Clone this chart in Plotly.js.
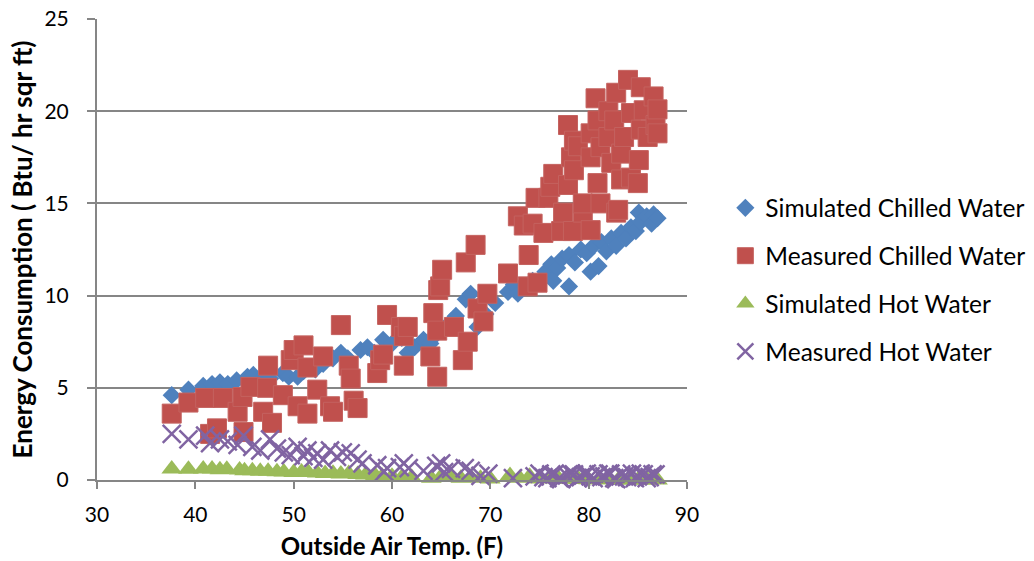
<!DOCTYPE html>
<html>
<head>
<meta charset="utf-8">
<script src="https://cdn.plot.ly/plotly-3.0.1.min.js"></script>
<style>html,body{margin:0;padding:0;background:#fff;}#chart{width:1034px;height:561px;}</style>
</head>
<body>
<div id="chart"></div>
<script>
// Simulated Chilled Water
const simCWx = [37.6,39.3,40.8,41.7,42.5,43.3,44.2,45.3,45.9,47.0,47.6,48.9,49.5,50.4,51.0,52.2,53.0,54.0,54.8,55.5,56.8,57.5,58.2,59.1,60.0,61.0,61.6,62.3,63.2,63.9,64.5,65.0,66.0,66.5,67.5,68.0,68.7,68.7,69.5,70.5,71.8,72.4,72.8,73.5,74.3,74.4,75.0,75.6,76.2,76.4,76.8,77.3,78.0,78.0,78.6,79.2,79.8,80.2,80.5,81.0,81.3,81.8,82.3,82.8,83.3,83.8,84.3,84.8,85.1,85.3,85.9,86.4,86.6,87.0];
const simCWy = [4.6,4.9,5.1,5.2,5.3,5.2,5.4,5.6,5.7,5.6,5.5,5.8,5.6,5.6,5.9,6.0,6.3,6.6,6.9,6.6,7.05,7.2,6.9,7.6,7.4,7.7,6.9,7.2,7.6,7.4,7.9,8.2,8.6,8.9,9.8,10.1,9.4,8.3,9.0,9.6,10.2,10.6,10.1,10.5,10.8,10.6,10.7,11.3,11.7,10.8,11.5,12.0,10.5,12.2,11.8,12.5,12.3,11.3,12.7,11.6,12.9,12.4,13.1,12.7,13.4,13.1,13.7,13.5,14.5,14.0,14.3,13.9,14.4,14.2];

// Measured Chilled Water
const meaCWx = [37.6,39.3,41.0,41.5,42.2,42.8,44.3,44.8,44.9,45.6,46.9,47.3,47.4,47.8,48.9,49.7,50.0,50.4,51.0,51.4,51.4,52.4,53.0,53.7,54.0,54.8,55.6,55.8,56.1,56.5,58.5,58.8,59.1,59.5,60.9,61.2,61.2,61.6,63.9,64.2,64.6,64.6,64.7,64.9,65.1,66.3,67.2,67.5,67.7,68.5,68.7,69.3,69.7,71.8,72.8,73.4,73.8,73.9,74.3,74.6,74.8,75.4,75.9,76.1,76.4,77.2,77.4,77.9,77.9,78.2,78.4,78.5,78.5,78.9,79.4,79.4,80.2,80.2,80.2,80.7,80.9,80.9,81.2,81.2,82.0,82.0,82.3,82.6,82.8,82.8,83.0,83.3,83.3,83.6,84.0,84.3,84.3,85.0,85.1,85.3,85.3,85.6,86.0,86.6,86.8,87.0,87.0];
const meaCWy = [3.6,4.2,4.45,2.5,2.8,4.45,3.7,4.5,2.6,5.05,3.7,5.0,6.2,3.1,4.6,6.5,7.05,4.0,7.3,6.1,3.6,4.9,6.7,4.0,3.7,8.4,6.2,5.5,4.3,3.9,5.8,6.5,6.8,8.95,8.3,7.8,6.2,8.3,6.7,9.05,8.1,5.6,10.3,10.5,11.4,8.3,6.5,11.8,7.5,12.75,9.3,8.6,10.1,11.2,14.3,13.8,10.5,12.2,13.9,15.3,10.7,13.4,15.3,15.9,16.6,13.5,14.5,16.0,19.25,17.5,13.5,16.8,18.4,18.1,14.5,15.0,13.55,17.5,18.8,20.7,16.1,19.5,15.0,18.05,20.0,18.6,17.2,19.5,21.0,14.5,14.65,17.7,16.3,18.6,21.7,19.9,16.4,16.1,17.35,21.3,19.0,20.05,18.6,20.8,19.25,20.1,18.8];

// Simulated Hot Water
const simHWx = [37.6,39.3,40.8,41.7,42.5,43.2,44.5,45.0,45.8,46.6,47.4,48.3,49.0,50.0,50.8,51.5,52.4,53.2,54.0,54.8,55.6,56.5,57.3,58.3,59.0,60.0,61.0,62.0,64.0,65.0,66.0,67.0,68.0,69.0,70.0,72.0,73.0,74.0,75.0,76.0,77.0,78.0,79.0,80.0,81.0,82.0,83.0,84.0,85.0,86.0,87.0];
const simHWy = [0.6,0.58,0.6,0.6,0.56,0.58,0.54,0.5,0.5,0.47,0.47,0.45,0.43,0.41,0.44,0.4,0.38,0.35,0.37,0.33,0.35,0.3,0.27,0.25,0.2,0.2,0.15,0.15,0.1,0.2,0.15,0.1,0.15,0.1,0.05,0.25,0.1,0.2,0.05,0.08,0.04,0.05,0.03,0.02,0.02,0.02,0.0,0.0,0.0,0.0,0.0];

// Measured Hot Water
const meaHWx = [37.6,39.3,41.0,41.5,42.5,43.3,44.3,44.9,45.8,46.6,47.6,48.3,49.0,49.7,50.4,51.0,51.4,52.0,52.4,53.0,53.7,54.4,55.0,55.8,56.5,57.0,58.5,59.2,59.5,60.8,61.2,61.7,63.2,64.5,65.0,65.3,66.0,67.4,68.0,69.0,69.8,72.3,74.5,75.0,75.4,75.8,76.2,76.5,77.0,77.2,77.8,78.2,78.5,78.9,79.2,79.6,79.8,80.2,80.5,81.0,81.3,81.6,82.0,82.2,82.6,82.8,83.3,83.6,83.9,84.4,84.7,85.0,85.3,85.6,85.9,86.2,86.5,86.8];
const meaHWy = [2.5,2.2,2.4,2.0,2.2,2.1,1.9,2.4,1.8,1.6,2.2,1.7,1.5,1.35,1.8,1.3,1.6,1.2,1.45,1.1,1.6,1.25,1.5,1.45,1.1,0.9,0.8,0.45,0.65,0.7,0.9,0.65,0.5,0.76,0.9,0.43,0.6,0.65,0.5,0.22,0.35,0.1,0.2,0.35,0.15,0.1,0.3,0.3,0.1,0.05,0.25,0.35,0.3,0.1,0.15,0.3,0.35,0.2,0.1,0.3,0.15,0.2,0.35,0.35,0.1,0.05,0.3,0.2,0.15,0.35,0.1,0.2,0.35,0.3,0.1,0.15,0.3,0.3];

const FONT = 'Lato, "Open Sans", sans-serif';

const traces = [
  {x: simCWx, y: simCWy, name: 'Simulated Chilled Water', legendgroup: 'a', mode: 'markers', type: 'scatter', cliponaxis: false,
   marker: {symbol: 'diamond', size: 14, color: '#4F81BD'}},
  {x: meaCWx, y: meaCWy, name: 'Measured Chilled Water', legendgroup: 'b', mode: 'markers', type: 'scatter', cliponaxis: false,
   marker: {symbol: 'square', size: 19, color: '#C0504D', line: {color: '#C4625F', width: 1}}},
  {x: simHWx, y: simHWy, name: 'Simulated Hot Water', legendgroup: 'c', mode: 'markers', type: 'scatter', cliponaxis: false,
   marker: {symbol: 'triangle-up', size: 18, color: '#9BBB59'}},
  {x: meaHWx, y: meaHWy, name: 'Measured Hot Water', legendgroup: 'd', mode: 'markers', type: 'scatter', cliponaxis: false,
   marker: {symbol: 'x-thin', size: 18, color: '#8064A2', line: {color: '#8064A2', width: 2.5}}}
];

const layout = {
  width: 1034, height: 561,
  margin: {l: 97, r: 347, t: 19, b: 81, pad: 0, autoexpand: false},
  paper_bgcolor: '#ffffff', plot_bgcolor: '#ffffff',
  font: {family: FONT, size: 21, color: '#000'},
  showlegend: true,
  legend: {x: 1.065, xanchor: 'left', y: 0.639, yanchor: 'top', font: {family: FONT, size: 24.5, color: '#000'},
           tracegroupgap: 13, itemsizing: 'trace', bgcolor: 'rgba(0,0,0,0)'},
  xaxis: {range: [30, 90], tickvals: [30,40,50,60,70,80,90], ticktext: ['30','40','50','60','70','80','90'],
          showgrid: false, zeroline: false, showline: true, linecolor: '#868686', linewidth: 2,
          ticks: 'outside', ticklen: 7, tickcolor: '#868686', tickwidth: 2, ticklabelstandoff: 8,
          tickfont: {family: FONT, size: 21, color: '#000'},
          title: {text: '<b>Outside Air Temp. (F)</b>', font: {family: FONT, size: 24, color: '#000'}, standoff: 13}},
  yaxis: {range: [0, 25], tickvals: [0,5,10,15,20,25], ticktext: ['0','5','10','15','20','25'],
          showgrid: true, gridcolor: '#868686', gridwidth: 2, zeroline: false, showline: true, linecolor: '#868686', linewidth: 2,
          ticks: 'outside', ticklen: 8, tickcolor: '#868686', tickwidth: 2, ticklabelstandoff: 14,
          tickfont: {family: FONT, size: 21, color: '#000'},
          title: {text: '<b>Energy Consumption ( Btu/ hr sqr ft)</b>', font: {family: FONT, size: 26, color: '#000'}, standoff: 4}}
};

Plotly.newPlot('chart', traces, layout, {displayModeBar: false, staticPlot: true});
</script>
</body>
</html>
